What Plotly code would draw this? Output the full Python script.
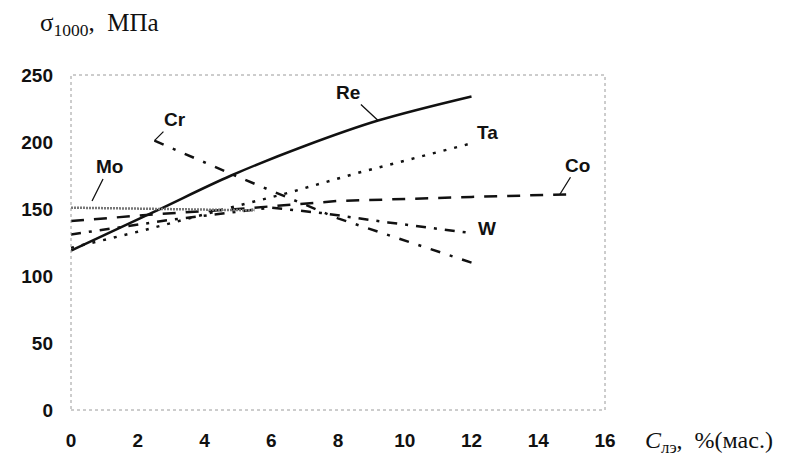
import plotly.graph_objects as go

# Data
x_re = [0, 2.5, 4.8, 7, 9.2, 12]
y_re = [119, 148, 175, 197, 216, 234]

x_ta = [0, 2, 4, 6.5, 8.6, 12]
y_ta = [121, 133, 146, 162, 177, 199]

x_co = [0, 2.5, 5, 8, 12, 15]
y_co = [141, 146, 150, 156, 159, 161]

x_w = [0, 3, 6, 7.5, 9.5, 12]
y_w = [131, 142, 151, 147, 140, 132]

x_cr = [2.5, 5, 8, 12]
y_cr = [201, 174, 143, 110]

x_mo = [0, 2.5, 5.5]
y_mo = [151, 150, 149]

x_ticks = [0, 2, 4, 6, 8, 10, 12, 14, 16]
y_ticks = [0, 50, 100, 150, 200, 250]

INK = "#111111"

fig = go.Figure()
fig.add_trace(go.Scatter(x=x_re, y=y_re, mode="lines", line=dict(color=INK, width=2.5, shape="spline"), name="Re"))
fig.add_trace(go.Scatter(x=x_ta, y=y_ta, mode="lines", line=dict(color=INK, width=2.5, dash="3px,8px"), name="Ta"))
fig.add_trace(go.Scatter(x=x_co, y=y_co, mode="lines", line=dict(color=INK, width=2.5, dash="13px,10px"), name="Co"))
fig.add_trace(go.Scatter(x=x_w, y=y_w, mode="lines", line=dict(color=INK, width=2.5, dash="10px,8px,3px,8px"), name="W"))
fig.add_trace(go.Scatter(x=x_cr, y=y_cr, mode="lines", line=dict(color=INK, width=2.5, dash="10px,10px,3px,10px"), name="Cr"))
fig.add_trace(go.Scatter(x=x_mo, y=y_mo, mode="lines", line=dict(color="#777777", width=2.5, dash="2px,1px"), name="Mo"))

label_font = dict(family="Liberation Sans, Arial", size=19, color=INK, weight="bold")

def leader(text, x, y, ax, ay):
    fig.add_annotation(x=x, y=y, text=f"<b>{text}</b>", showarrow=True, arrowhead=0,
                       arrowwidth=1.3, arrowcolor=INK, ax=ax, ay=ay, font=label_font)

leader("Re", x_re[4], y_re[4], -30, -28)
leader("Cr", x_cr[0], y_cr[0], 21, -21)
leader("Mo", 0.63, 156, 17, -34)
leader("Co", x_co[-1] - 0.35, y_co[-1], 18, -29)

fig.add_annotation(x=x_ta[-1], y=y_ta[-1], text="<b>Ta</b>", showarrow=False, xanchor="center",
                   yanchor="middle", xshift=16, yshift=11, font=label_font)
fig.add_annotation(x=x_w[-1], y=y_w[-1], text="<b>W</b>", showarrow=False, xanchor="center",
                   yanchor="middle", xshift=15, yshift=5, font=label_font)

fig.add_annotation(xref="paper", yref="paper", x=-0.062, y=1.152, xanchor="left", yanchor="middle",
                   text="σ<sub>1000</sub>,  МПа", showarrow=False,
                   font=dict(family="Liberation Serif, Times New Roman", size=25, color=INK))
fig.add_annotation(xref="paper", yref="paper", x=1.071, y=-0.0955, xanchor="left", yanchor="middle",
                   text="<i>C</i><sub>лэ</sub>,  %(мас.)", showarrow=False,
                   font=dict(family="Liberation Serif, Times New Roman", size=24, color=INK))

fig.add_shape(type="rect", xref="paper", yref="paper", x0=0, y0=0, x1=1, y1=1,
              line=dict(color="#9a9a9a", width=1, dash="dot"))

tick_font = dict(family="Liberation Sans, Arial", size=19, color=INK, weight="bold")
fig.update_xaxes(range=[0, 16], tickvals=x_ticks, ticktext=[str(v) for v in x_ticks],
                 showgrid=False, zeroline=False, showline=False, ticks="",
                 tickfont=tick_font, ticklabelstandoff=17)
fig.update_yaxes(range=[0, 250], tickvals=y_ticks, ticktext=[str(v) for v in y_ticks],
                 showgrid=False, zeroline=False, showline=False, ticks="",
                 tickfont=tick_font, ticklabelstandoff=17)

fig.update_layout(width=796, height=465, margin=dict(l=63, r=199, t=67, b=63),
                  plot_bgcolor="white", paper_bgcolor="white", showlegend=False)

fig.write_html("out.html")
